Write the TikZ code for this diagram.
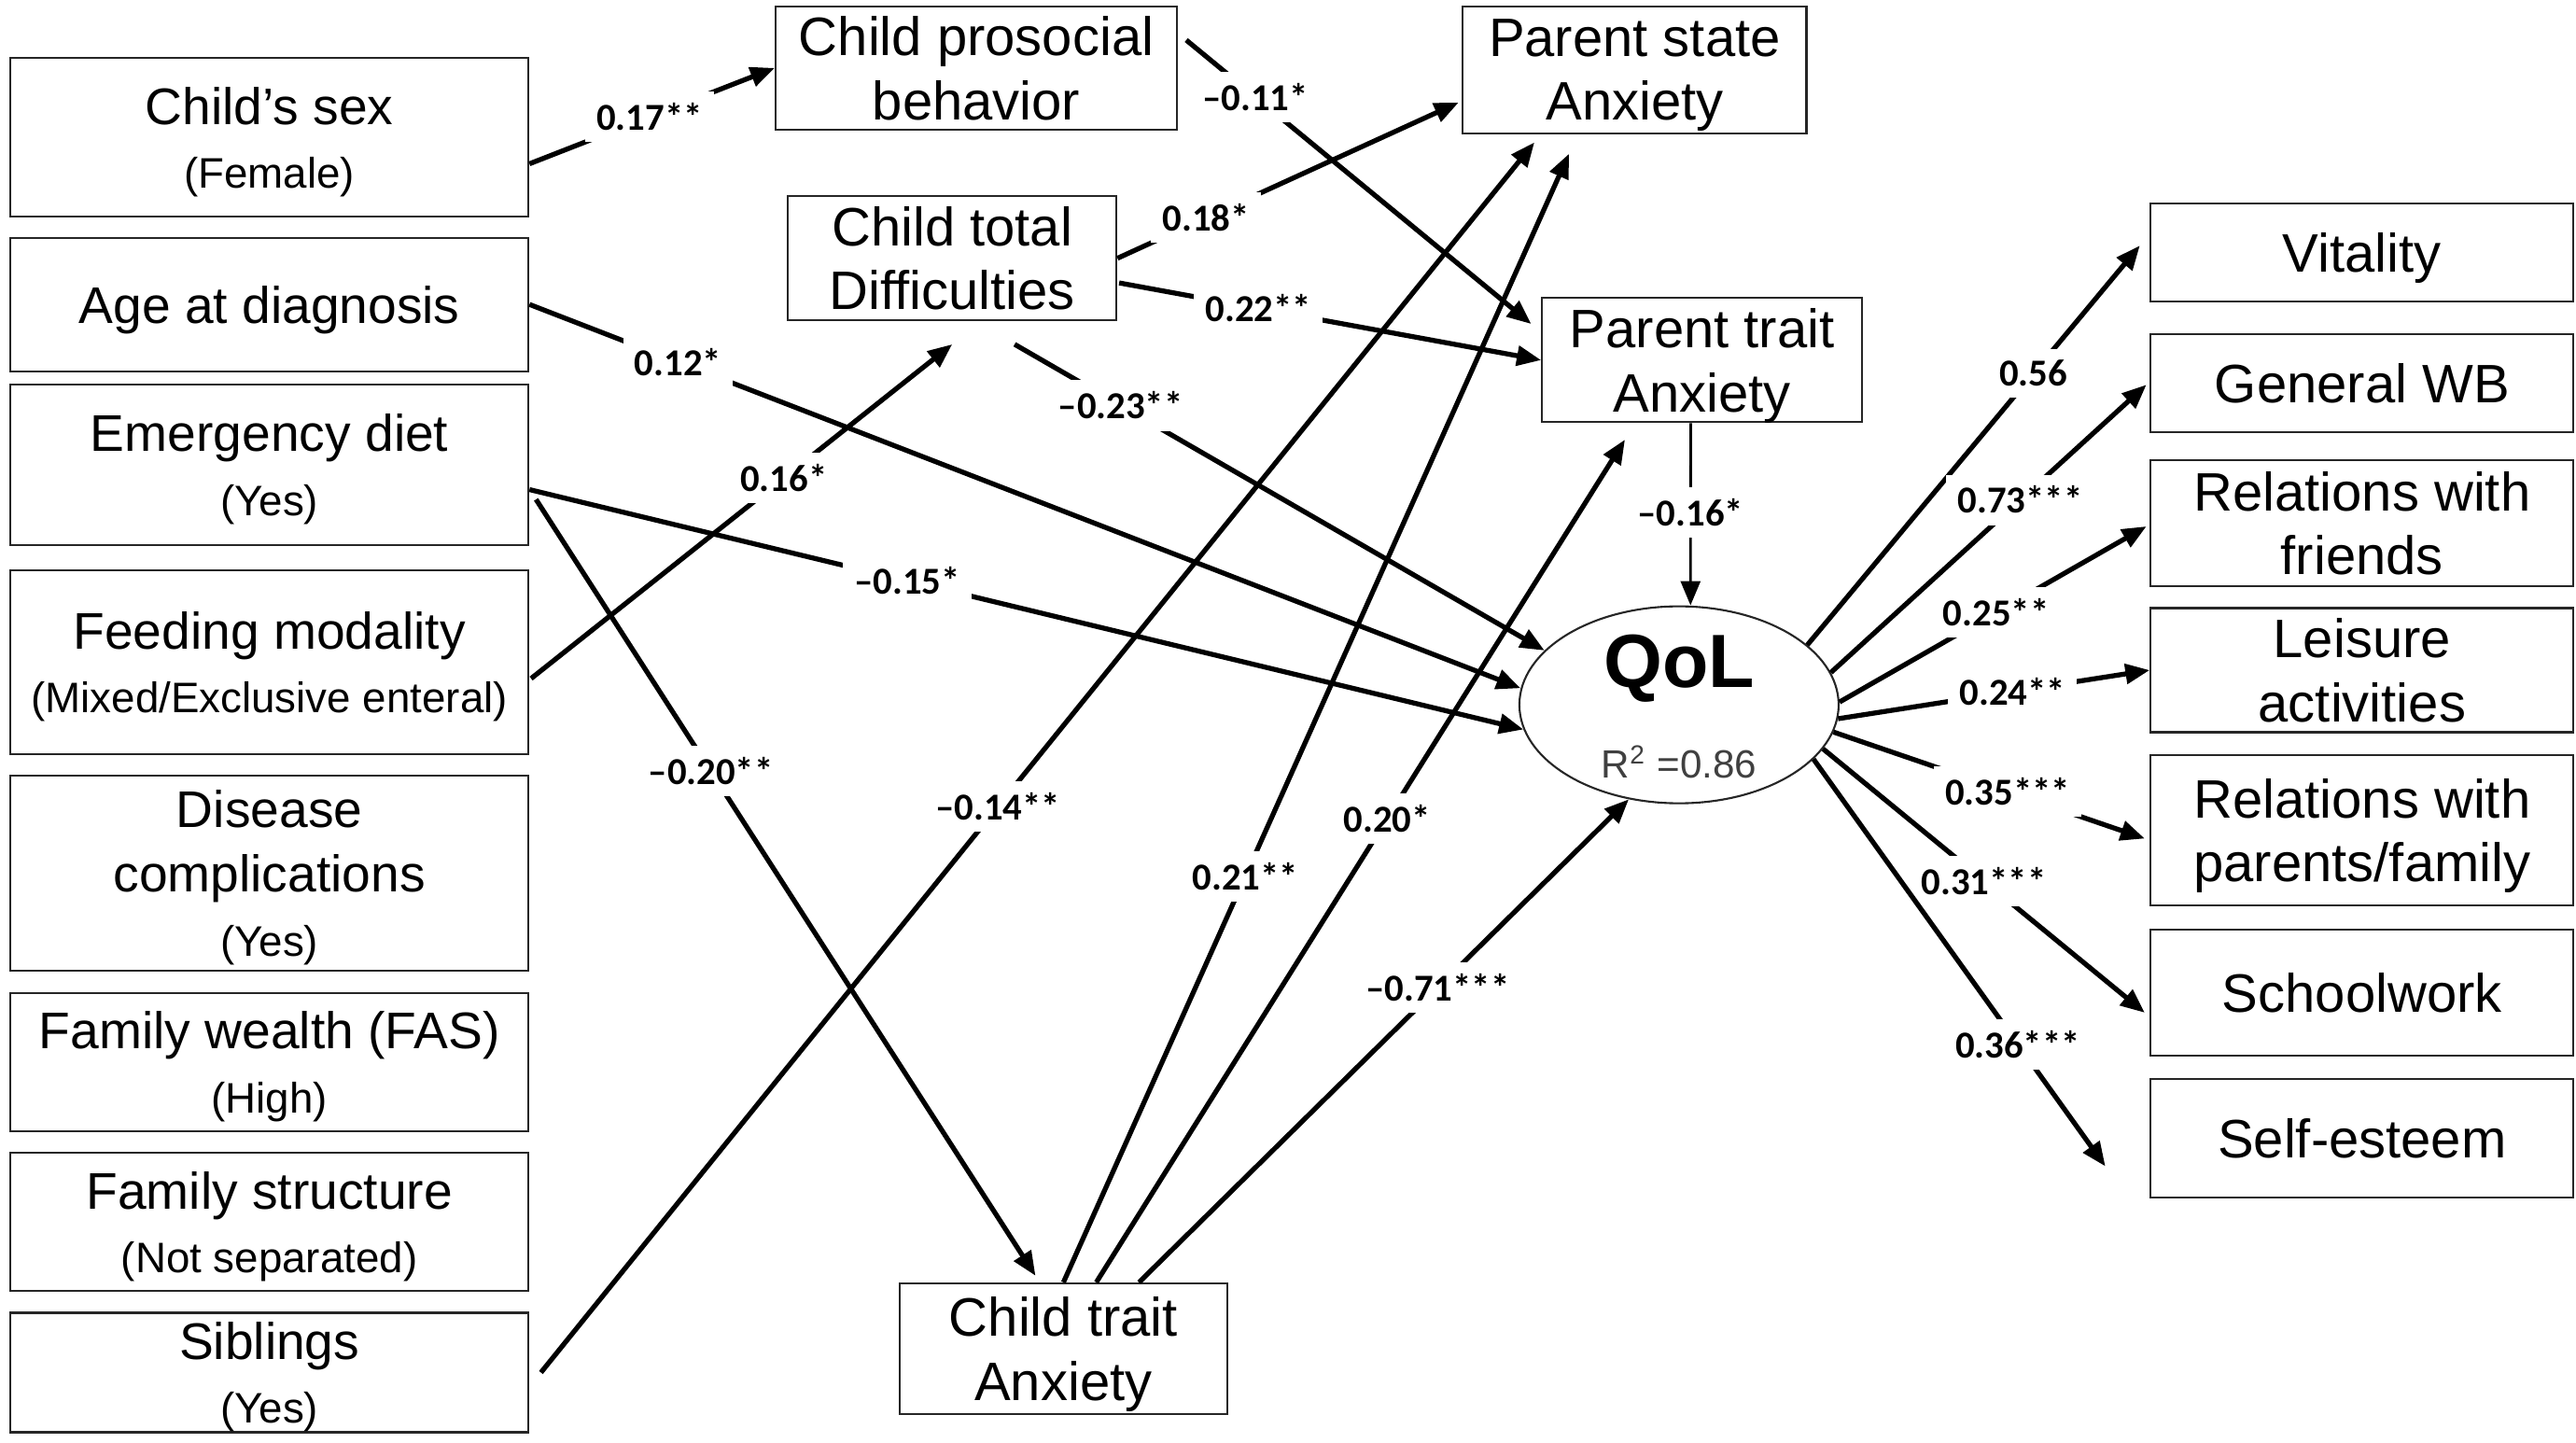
\documentclass[tikz,border=0pt]{standalone}
\usepackage{fontspec}
\setmainfont{Liberation Sans}
\newfontfamily\calfont{Carlito}
\usetikzlibrary{arrows.meta}
\usetikzlibrary{shapes.geometric}

\newcommand{\subtxt}[1]{{\fontsize{13}{19.5}\selectfont #1}}

\tikzset{
  box/.style={draw=black!85, line width=0.6pt, inner sep=0pt, align=center, text depth=0pt,
    font=\fontsize{16.5}{19.5}\selectfont},
  lbox/.style={box, minimum width=55.5mm, font=\fontsize{15.7}{19.5}\selectfont},
  rbox/.style={box, minimum width=45.3mm},
  coef/.style={fill=white, inner sep=3.5pt, font=\calfont\bfseries\fontsize{11.6}{13}\selectfont},
  arr/.style={line width=1.5pt, -{Triangle[length=2.6mm,width=2.1mm]}}
}

\begin{document}
\begin{tikzpicture}[x=0.176mm, y=-0.176mm]
\useasboundingbox (0,0) rectangle (1568,878);

\node[lbox, minimum height=17mm]   (sex)    at (164,83.7)  {Child’s sex\\\subtxt{(Female)}};
\node[lbox, minimum height=14.3mm] (age)    at (164,185.3) {Age at diagnosis};
\node[lbox, minimum height=17.2mm] (emerg)  at (164,283)   {Emergency diet\\\subtxt{(Yes)}};
\node[lbox, minimum height=19.7mm] (feed)   at (164,403)   {Feeding modality\\\subtxt{(Mixed/Exclusive enteral)}};
\node[lbox, minimum height=20.9mm] (dis)    at (164,531.5) {Disease\\complications\\\subtxt{(Yes)}};
\node[lbox, minimum height=14.8mm] (fas)    at (164,646.5) {Family wealth (FAS)\\\subtxt{(High)}};
\node[lbox, minimum height=14.8mm] (fstr)   at (164,743.9) {Family structure\\\subtxt{(Not separated)}};
\node[lbox, minimum height=12.8mm] (sib)    at (164,835.4) {Siblings\\\subtxt{(Yes)}};

\node[box, minimum width=43mm, minimum height=13.2mm]   (pro)    at (594.3,41.4)  {Child prosocial\\behavior};
\node[box, minimum width=35.2mm, minimum height=13.3mm] (diff)   at (579.6,157.2) {Child total\\Difficulties};
\node[box, minimum width=36.8mm, minimum height=13.6mm] (pstate) at (995,42.4)    {Parent state\\Anxiety};
\node[box, minimum width=34.3mm, minimum height=13.3mm] (ptrait) at (1036.1,219.2) {Parent trait\\Anxiety};
\node[box, minimum width=35.1mm, minimum height=14mm]   (ctrait) at (647.3,820.9) {Child trait\\Anxiety};

\node[ellipse, draw=black!85, line width=0.6pt, inner sep=0pt,
      minimum width=34.2mm, minimum height=21.1mm] (qol) at (1022,429) {};
\node[font=\bfseries\fontsize{23}{27}\selectfont, inner sep=0pt] (qoltxt) at (1022,407) {QoL};
\node[font=\fontsize{12}{14}\selectfont, text=black!75, inner sep=0pt] (rsq) at (1022,464) {R\textsuperscript{2} =0.86};

\node[rbox, minimum height=10.5mm] (vit)    at (1437.8,153.5) {Vitality};
\node[rbox, minimum height=10.5mm] (gwb)    at (1437.8,233.2) {General WB};
\node[rbox, minimum height=13.5mm] (frnd)   at (1437.8,318.4) {Relations with\\friends};
\node[rbox, minimum height=13.3mm] (leis)   at (1437.8,407.9) {Leisure\\activities};
\node[rbox, minimum height=16.1mm] (fam)    at (1437.8,505.4) {Relations with\\parents/family};
\node[rbox, minimum height=13.5mm] (school) at (1437.8,604.4) {Schoolwork};
\node[rbox, minimum height=12.7mm] (self)   at (1437.8,692.9) {Self-esteem};

\draw[arr] ([shift={(0,16)}]sex.east) -- node[coef,pos=0.49] (l1) {0.17**} (pro.west);
\draw[arr] ([shift={(5,-17)}]pro.east) -- node[coef,pos=0.2] (l2) {–0.11*} ([shift={(-6,-22)}]ptrait.west);
\draw[arr] (diff.east) -- node[coef,pos=0.26] (l3) {0.18*} ([shift={(-2,20)}]pstate.west);
\draw[arr] ([shift={(1,15)}]diff.east) -- node[coef,pos=0.33] (l4) {0.22**} (ptrait.west);
\draw[arr] ([shift={(38,14)}]diff.south) -- node[coef,pos=0.2] (l5) {–0.23**} (qol.158);
\draw[arr] (age.east) -- node[coef,pos=0.15] (l6) {0.12*} (qol.174);
\draw[arr] ([shift={(0,15)}]emerg.east) -- node[coef,pos=0.38] (l7) {–0.15*} (qol.189);
\draw[arr] ([shift={(4,21)}]emerg.east) -- node[coef,pos=0.35] (l8) {–0.20**} ([shift={(-17,-4)}]ctrait.north);
\draw[arr] ([shift={(1,10)}]feed.east) -- node[coef,pos=0.6] (l9) {0.16*} ([shift={(0,14)}]diff.south);
\draw[arr] ([shift={(7,0)}]sib.east) -- node[coef,pos=0.46] (l10) {–0.14**} ([shift={(-61,5)}]pstate.south);
\draw[arr] (ctrait.north) -- node[coef,pos=0.36] (l11) {0.21**} ([shift={(-40,12)}]pstate.south);
\draw[arr] ([shift={(20,0)}]ctrait.north) -- node[coef,pos=0.55] (l12) {0.20*} ([shift={(-47,10)}]ptrait.south);
\draw[arr] ([shift={(46,0)}]ctrait.north) -- node[coef,pos=0.61] (l13) {–0.71***} (qol.242);
\draw[arr, line width=0.8pt] ([shift={(-7,0)}]ptrait.south) -- node[coef,pos=0.49] (l14) {–0.16*} ([shift={(7,0)}]qol.north);

\draw[arr] (qol.25)  -- node[coef,pos=0.68] (r1) {0.56} ([shift={(-6,-4)}]vit.west);
\draw[arr] (qol.12)  -- node[coef,pos=0.6]  (r2) {0.73***} ([shift={(-2,1)}]gwb.west);
\draw[arr] (qol.1)   -- node[coef,pos=0.51] (r3) {0.25**} ([shift={(-2,2)}]frnd.west);
\draw[arr] (qol.355) -- node[coef,pos=0.56] (r4) {0.24**} (leis.west);
\draw[arr] (qol.350) -- node[coef,pos=0.56] (r5) {0.35***} ([shift={(-3,5)}]fam.west);
\draw[arr] (qol.343) -- node[coef,pos=0.5]  (r6) {0.31***} ([shift={(-3,12)}]school.west);
\draw[arr] (qol.338) -- node[coef,pos=0.7]  (r7) {0.36***} ([shift={(-27,17)}]self.west);
\end{tikzpicture}
\end{document}
